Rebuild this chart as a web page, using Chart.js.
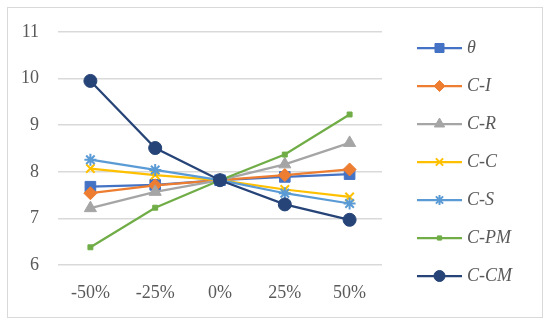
<!DOCTYPE html>
<html>
<head>
<meta charset="utf-8">
<script src="https://cdn.jsdelivr.net/npm/chart.js@4/dist/chart.umd.min.js"></script>
<style>
  html, body { margin: 0; padding: 0; background: #fff; }
  #wrap { width: 550px; height: 325px; }
</style>
</head>
<body>
<div id="wrap"><canvas id="chart" width="550" height="325"></canvas></div>
<script>
// categories and series values
const categories = ['-50%', '-25%', '0%', '25%', '50%'];
const yTicks = [6, 7, 8, 9, 10, 11];

const theta = [7.68, 7.72, 7.82, 7.89, 7.95];
const cI    = [7.54, 7.71, 7.82, 7.93, 8.05];
const cR    = [7.22, 7.57, 7.82, 8.16, 8.62];
const cC    = [8.07, 7.93, 7.82, 7.62, 7.46];
const cS    = [8.26, 8.04, 7.82, 7.54, 7.32];
const cPM   = [6.38, 7.23, 7.82, 8.37, 9.23];
const cCM   = [9.95, 8.51, 7.82, 7.30, 6.97];

const FONT = '"Liberation Serif", "DejaVu Serif", serif';
const TEXT = '#595959';
const GRID = '#d9d9d9';

const series = [
  { label: 'θ',    data: theta, color: '#4472C4', style: 'rect',     r: 7.5, bw: 1 },
  { label: 'C-I',  data: cI,    color: '#ED7D31', style: 'rectRot',  r: 6.5, bw: 1 },
  { label: 'C-R',  data: cR,    color: '#A5A5A5', style: 'triangle', r: 7,   bw: 1 },
  { label: 'C-C',  data: cC,    color: '#FFC000', style: 'crossRot', r: 6,   bw: 2 },
  { label: 'C-S',  data: cS,    color: '#5B9BD5', style: 'star',     r: 6,   bw: 2 },
  { label: 'C-PM', data: cPM,   color: '#70AD47', style: 'rect',     r: 3.5, bw: 1 },
  { label: 'C-CM', data: cCM,   color: '#264478', style: 'circle',   r: 6.5, bw: 1 }
];

// outer frame like the office chart box
const frame = {
  id: 'frame',
  beforeDraw(chart) {
    const ctx = chart.ctx;
    ctx.save();
    ctx.fillStyle = '#fff';
    ctx.fillRect(0, 0, chart.width, chart.height);
    ctx.strokeStyle = GRID;
    ctx.lineWidth = 1;
    ctx.strokeRect(7.5, 7.5, 535, 310);
    ctx.restore();
  }
};

// legend with a line through each marker
const sideLegend = {
  id: 'sideLegend',
  afterDraw(chart) {
    const ctx = chart.ctx;
    const x0 = chart.chartArea.right + 35;
    ctx.save();
    chart.data.datasets.forEach((ds, i) => {
      const y = 48 + i * 38;
      ctx.strokeStyle = ds.borderColor;
      ctx.lineWidth = 2.25;
      ctx.beginPath();
      ctx.moveTo(x0, y);
      ctx.lineTo(x0 + 45, y);
      ctx.stroke();
      ctx.fillStyle = ds.pointBackgroundColor;
      ctx.strokeStyle = ds.pointBorderColor;
      ctx.lineWidth = ds.pointBorderWidth;
      Chart.helpers.drawPoint(ctx, {
        pointStyle: ds.pointStyle, radius: ds.pointRadius * 0.85, rotation: 0, borderWidth: ds.pointBorderWidth
      }, x0 + 22.5, y);
      ctx.fillStyle = TEXT;
      ctx.font = 'italic 18px ' + FONT;
      ctx.textBaseline = 'middle';
      ctx.textAlign = 'left';
      ctx.fillText(ds.label, x0 + 50, y);
    });
    ctx.restore();
  }
};

new Chart(document.getElementById('chart'), {
  type: 'line',
  data: {
    labels: categories,
    datasets: series.map((s, i) => ({
      label: s.label,
      data: s.data,
      borderColor: s.color,
      backgroundColor: s.color,
      borderWidth: 2.25,
      pointStyle: s.style,
      pointRadius: s.r,
      pointHoverRadius: s.r,
      pointBackgroundColor: s.color,
      pointBorderColor: s.color,
      pointBorderWidth: s.bw,
      tension: 0,
      order: series.length - i
    }))
  },
  options: {
    responsive: false,
    animation: false,
    layout: { padding: { left: 8, top: 32, right: 168, bottom: 0 } },
    plugins: {
      legend: { display: false },
      tooltip: { enabled: false }
    },
    scales: {
      x: {
        offset: true,
        grid: { display: false, drawTicks: false },
        border: { display: false },
        ticks: { color: TEXT, font: { family: FONT, size: 18 }, padding: 17 },
        afterFit: s => { s.height = 60; }
      },
      y: {
        min: 6,
        max: 11,
        afterBuildTicks: s => { s.ticks = yTicks.map(v => ({ value: v })); },
        grid: { color: GRID, lineWidth: 1.5, drawTicks: false },
        border: { display: false },
        ticks: { color: TEXT, font: { family: FONT, size: 18 }, padding: 19 },
        afterFit: s => { s.width = 50; }
      }
    }
  },
  plugins: [frame, sideLegend]
});
</script>
</body>
</html>
